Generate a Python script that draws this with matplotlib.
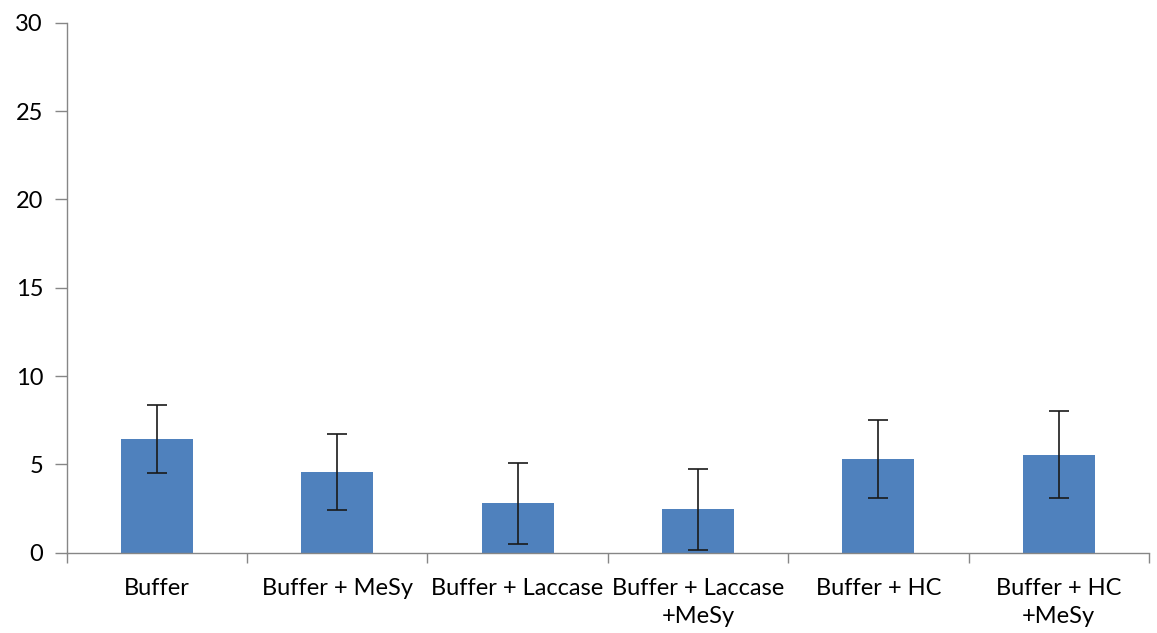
import matplotlib.pyplot as plt

# values
categories = ['Buffer', 'Buffer + MeSy', 'Buffer + Laccase', 'Buffer + Laccase\n+MeSy',
              'Buffer + HC', 'Buffer + HC\n+MeSy']
means = [6.45, 4.57, 2.8, 2.45, 5.3, 5.55]
errors = [1.93, 2.17, 2.3, 2.3, 2.21, 2.47]
y_ticks = [0, 5, 10, 15, 20, 25, 30]


def main():
    plt.rcParams['font.family'] = ['Lato', 'DejaVu Sans']
    fig = plt.figure(figsize=(11.57, 6.33), dpi=100)
    ax = fig.add_axes([0.0576, 0.1268, 0.9354, 0.8373])

    x = range(len(categories))
    ax.bar(x, means, width=0.4, color='#4F81BD', zorder=2)
    ax.errorbar(x, means, yerr=errors, fmt='none', ecolor='#1a1a1a',
                elinewidth=1.2, capsize=7, capthick=1.2, zorder=3)

    ax.set_xlim(-0.5, len(categories) - 0.5)
    ax.set_ylim(0, 30)
    ax.set_yticks(y_ticks)

    # category ticks sit between the bars
    ax.set_xticks([i + 0.5 for i in range(-1, len(categories))], minor=False)
    ax.set_xticklabels([])
    ax.set_xticks(list(x), minor=True)
    ax.set_xticklabels(categories, minor=True, fontsize=17, linespacing=1.4)
    ax.tick_params(axis='x', which='minor', length=0, pad=18)
    ax.tick_params(axis='x', which='major', length=7, color='#868686', width=1)
    ax.tick_params(axis='y', length=9, color='#868686', width=1, labelsize=17, pad=8)

    for side in ['top', 'right']:
        ax.spines[side].set_visible(False)
    for side in ['left', 'bottom']:
        ax.spines[side].set_color('#868686')
        ax.spines[side].set_linewidth(1)

    fig.savefig('out.png', dpi=100)


if __name__ == '__main__':
    main()
